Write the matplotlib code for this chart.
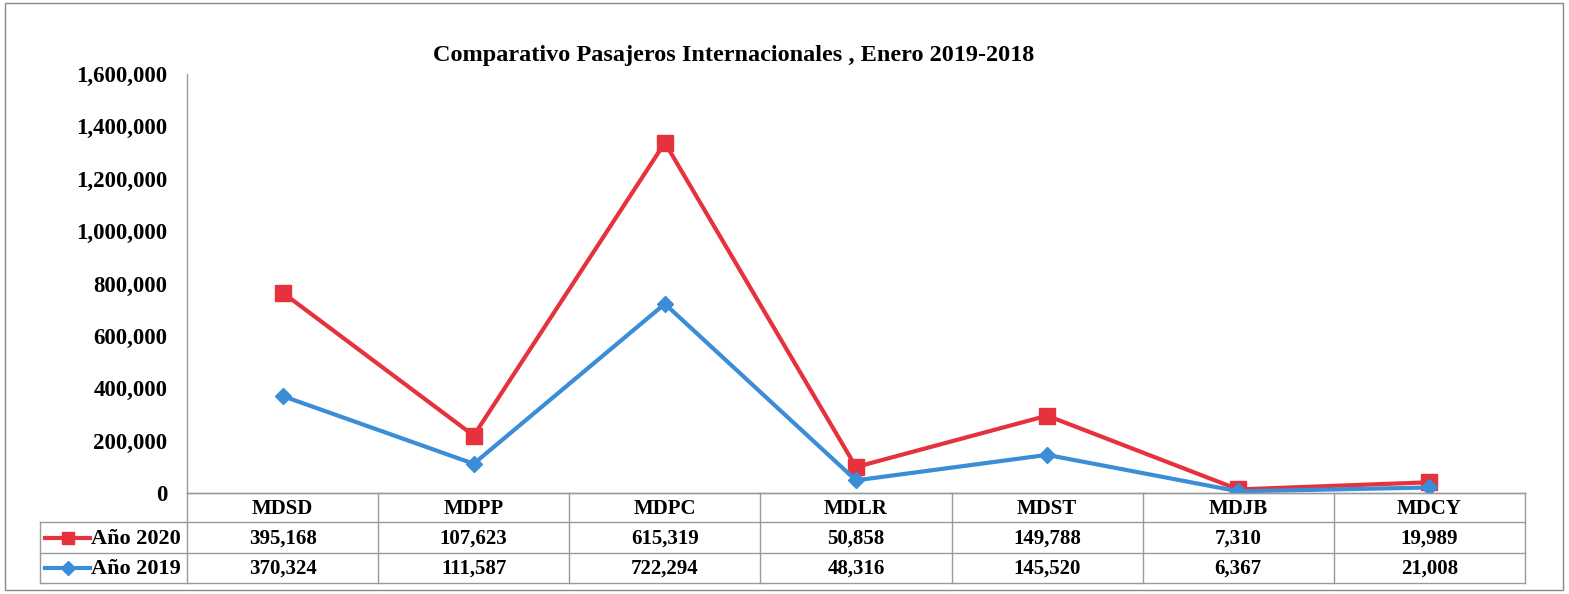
import numpy as np
import matplotlib
matplotlib.use("Agg")
import matplotlib.pyplot as plt
from matplotlib.lines import Line2D
from matplotlib.patches import Rectangle

categories = ["MDSD", "MDPP", "MDPC", "MDLR", "MDST", "MDJB", "MDCY"]
anio_2020 = [395168, 107623, 615319, 50858, 149788, 7310, 19989]
anio_2019 = [370324, 111587, 722294, 48316, 145520, 6367, 21008]
series_labels = ["Año 2020", "Año 2019"]
yticks = [0, 200000, 400000, 600000, 800000, 1000000, 1200000, 1400000, 1600000]
title = "Comparativo Pasajeros Internacionales , Enero 2019-2018"

RED = "#E5323C"
BLUE = "#3A8DD6"
GRID = "#9a9a9a"
FONT = "Liberation Serif"

W, H = 1569, 594
fig = plt.figure(figsize=(W / 100, H / 100), dpi=100)

def fx(px):
    return px / W

def fy(py):
    return 1 - py / H

# outer border
fig.add_artist(Rectangle((fx(5), fy(590)), fx(1563) - fx(5), fy(3) - fy(590),
                         transform=fig.transFigure, fill=False, edgecolor="#888888", lw=1.0))

ax_left, ax_right, ax_top, ax_bot = 187, 1525, 74, 493
ax = fig.add_axes([fx(ax_left), fy(ax_bot), fx(ax_right) - fx(ax_left), fy(ax_top) - fy(ax_bot)])

x = np.arange(len(categories))
v19 = np.array(anio_2019, dtype=float)
v20_stacked = v19 + np.array(anio_2020, dtype=float)

ax.plot(x, v20_stacked, color=RED, lw=3, marker="s", ms=11, mfc=RED, mec=RED, zorder=3)
ax.plot(x, v19, color=BLUE, lw=3, marker="D", ms=8, mfc=BLUE, mec=BLUE, zorder=4)

ax.set_xlim(-0.5, len(categories) - 0.5)
ax.set_ylim(0, 1600000)
ax.set_yticks(yticks)
ax.set_yticklabels([f"{v:,}" for v in yticks], fontfamily=FONT, fontweight="bold", fontsize=16.5)
ax.tick_params(axis="y", length=0, pad=14)
ax.set_xticks([])
for s in ["top", "right"]:
    ax.spines[s].set_visible(False)
ax.spines["left"].set_color(GRID)
ax.spines["left"].set_linewidth(1)
ax.spines["bottom"].set_color(GRID)
ax.spines["bottom"].set_linewidth(1)

fig.text(fx(734), fy(56), title, ha="center", va="center",
         fontfamily=FONT, fontweight="bold", fontsize=17.5)

# data table
tab_left = 40
row_edges = [493, 522, 553, 583]
col_w = (ax_right - ax_left) / len(categories)
col_edges = [ax_left + i * col_w for i in range(len(categories) + 1)]

def hline(x0, x1, y):
    fig.add_artist(Line2D([fx(x0), fx(x1)], [fy(y), fy(y)], transform=fig.transFigure,
                          color=GRID, lw=1))

def vline(xp, y0, y1):
    fig.add_artist(Line2D([fx(xp), fx(xp)], [fy(y0), fy(y1)], transform=fig.transFigure,
                          color=GRID, lw=1))

hline(ax_left, ax_right, row_edges[0])
for yr in row_edges[1:]:
    hline(tab_left, ax_right, yr)
for xc in col_edges:
    vline(xc, row_edges[0], row_edges[3])
vline(tab_left, row_edges[1], row_edges[3])

txt_kw = dict(fontfamily=FONT, fontweight="bold", fontsize=15, ha="center", va="center")
for i, c in enumerate(categories):
    cx = (col_edges[i] + col_edges[i + 1]) / 2
    fig.text(fx(cx), fy((row_edges[0] + row_edges[1]) / 2 + 1), c, **txt_kw)
    fig.text(fx(cx), fy((row_edges[1] + row_edges[2]) / 2 + 1), f"{anio_2020[i]:,}", **txt_kw)
    fig.text(fx(cx), fy((row_edges[2] + row_edges[3]) / 2 + 1), f"{anio_2019[i]:,}", **txt_kw)

# legend keys in table
for r, (lab, col, mk, ms) in enumerate([(series_labels[0], RED, "s", 9), (series_labels[1], BLUE, "D", 7)]):
    yc = (row_edges[1 + r] + row_edges[2 + r]) / 2
    fig.add_artist(Line2D([fx(45), fx(90)], [fy(yc), fy(yc)], transform=fig.transFigure,
                          color=col, lw=3))
    fig.add_artist(Line2D([fx(67.5)], [fy(yc)], transform=fig.transFigure,
                          color=col, marker=mk, ms=ms, mfc=col, mec=col, lw=0))
    fig.text(fx(91), fy(yc + 1), lab, fontfamily=FONT, fontweight="bold", fontsize=16,
             ha="left", va="center")

fig.savefig("out.png", dpi=100)
